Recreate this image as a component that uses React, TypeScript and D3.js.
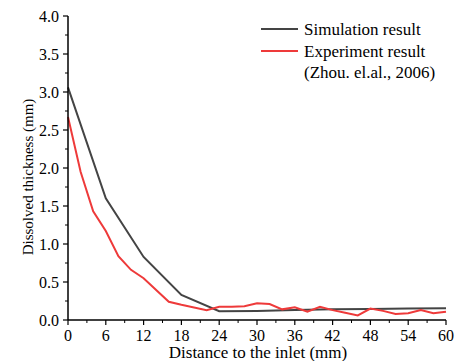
import React from "react";
import * as d3 from "d3";

const simX = [0, 6, 12, 18, 24, 30, 36, 42, 48, 54, 60];
const simY = [3.06, 1.6, 0.83, 0.33, 0.115, 0.12, 0.13, 0.14, 0.145, 0.15, 0.155];
const expX = [0, 2, 4, 6, 8, 10, 12, 16, 18, 22, 24, 26, 28, 30, 32, 34, 36, 38, 40, 42, 44, 46, 48, 50, 52, 54, 56, 58, 60];
const expY = [2.67, 1.95, 1.43, 1.17, 0.84, 0.66, 0.55, 0.24, 0.2, 0.13, 0.175, 0.175, 0.18, 0.22, 0.21, 0.14, 0.167, 0.11, 0.175, 0.13, 0.096, 0.06, 0.15, 0.12, 0.08, 0.088, 0.13, 0.088, 0.11];
const xTicks = [0, 6, 12, 18, 24, 30, 36, 42, 48, 54, 60];
const yTicks = [0, 0.5, 1, 1.5, 2, 2.5, 3, 3.5, 4];
const legendLabels = ["Simulation result", "Experiment result", "(Zhou. el.al., 2006)"];

const W = 462, H = 361;
const x = d3.scaleLinear().domain([0, 60]).range([68, 446]);
const y = d3.scaleLinear().domain([0, 4]).range([320, 16]);
const ts: React.CSSProperties = { fontFamily: "Liberation Serif", fontSize: 16 };
const xs: React.CSSProperties = { fontFamily: "Liberation Serif", fontSize: 17 };
const ys: React.CSSProperties = { fontFamily: "Liberation Serif", fontSize: 15 };
const ls: React.CSSProperties = { fontFamily: "Liberation Serif", fontSize: 17 };

export default function App() {
  const line = d3.line<[number, number]>().x(d => x(d[0])).y(d => y(d[1]));
  const sim = simX.map((v, i) => [v, simY[i]] as [number, number]);
  const exp = expX.map((v, i) => [v, expY[i]] as [number, number]);
  const xMinor = d3.range(0, 61, 3).filter(v => v % 6 !== 0);
  const yMinor = d3.range(0.25, 4, 0.5);
  return (
    <svg width={W} height={H} style={{ position: "absolute", left: 0, top: 0, background: "#fff" }}>
      <path d={line(sim) || ""} fill="none" stroke="#444" strokeWidth={2} />
      <path d={line(exp) || ""} fill="none" stroke="#ee3a3a" strokeWidth={2} />
      <line x1={x(0)} x2={x(60)} y1={320} y2={320} stroke="#000" strokeWidth={1.5} />
      <line x1={68} x2={68} y1={y(0)} y2={y(4)} stroke="#000" strokeWidth={1.5} />
      {xTicks.map(t => (
        <g key={"xt" + t}>
          <line x1={x(t)} x2={x(t)} y1={320} y2={325} stroke="#000" strokeWidth={1.2} />
          <text x={x(t)} y={341} textAnchor="middle" style={ts}>{t}</text>
        </g>
      ))}
      {xMinor.map(t => (
        <line key={"xm" + t} x1={x(t)} x2={x(t)} y1={320} y2={323} stroke="#000" strokeWidth={1} />
      ))}
      {yTicks.map(t => (
        <g key={"yt" + t}>
          <line x1={63} x2={68} y1={y(t)} y2={y(t)} stroke="#000" strokeWidth={1.2} />
          <text x={59} y={y(t) + 5.5} textAnchor="end" style={ts}>{t.toFixed(1)}</text>
        </g>
      ))}
      {yMinor.map(t => (
        <line key={"ym" + t} x1={65} x2={68} y1={y(t)} y2={y(t)} stroke="#000" strokeWidth={1} />
      ))}
      <text x={258} y={358} textAnchor="middle" style={xs}>Distance to the inlet (mm)</text>
      <text transform={`translate(33,177) rotate(-90)`} textAnchor="middle" style={ys}>Dissolved thickness (mm)</text>
      <line x1={261} x2={298} y1={29} y2={29} stroke="#444" strokeWidth={2} />
      <line x1={261} x2={298} y1={51} y2={51} stroke="#ee3a3a" strokeWidth={2} />
      <text x={304} y={34.5} style={ls}>{legendLabels[0]}</text>
      <text x={304} y={56.5} style={ls}>{legendLabels[1]}</text>
      <text x={304} y={78} style={ls}>{legendLabels[2]}</text>
    </svg>
  );
}
